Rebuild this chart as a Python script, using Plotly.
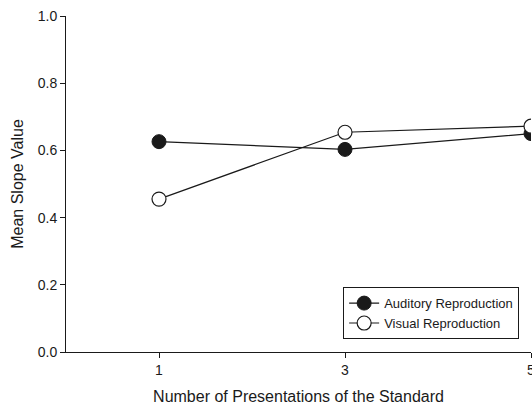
import plotly.graph_objects as go

presentations = [1, 3, 5]
auditory = [0.626, 0.603, 0.650]
visual = [0.455, 0.654, 0.672]
x_ticks = [1, 3, 5]
y_ticks = [0.0, 0.2, 0.4, 0.6, 0.8, 1.0]

fig = go.Figure()
fig.add_trace(go.Scatter(
    x=presentations, y=auditory, mode="lines+markers", name="Auditory Reproduction",
    line=dict(color="#1a1a1a", width=1.2),
    marker=dict(symbol="circle", size=14, color="#1a1a1a", line=dict(color="#1a1a1a", width=1)),
    cliponaxis=True,
))
fig.add_trace(go.Scatter(
    x=presentations, y=visual, mode="lines+markers", name="Visual Reproduction",
    line=dict(color="#1a1a1a", width=1.2),
    marker=dict(symbol="circle", size=14, color="white", line=dict(color="#1a1a1a", width=1.2)),
    cliponaxis=True,
))

fig.update_layout(
    width=532, height=406,
    margin=dict(l=66, r=1, t=16, b=54),
    paper_bgcolor="white", plot_bgcolor="white",
    font=dict(family="Liberation Sans, Arial, sans-serif", size=14, color="#1a1a1a"),
    showlegend=True,
    legend=dict(
        x=0.596, y=0.193, xanchor="left", yanchor="top",
        bordercolor="#1a1a1a", borderwidth=1, bgcolor="white",
        font=dict(size=13), tracegroupgap=0,
    ),
)
fig.update_xaxes(
    range=[0, 5], tickvals=x_ticks, ticktext=[str(v) for v in x_ticks],
    ticklabeloverflow="allow", automargin=False,
    showline=True, linecolor="#1a1a1a", linewidth=1,
    ticks="outside", ticklen=5, tickcolor="#1a1a1a",
    showgrid=False, zeroline=False,
    title=dict(text="Number of Presentations of the Standard", font=dict(size=16), standoff=14),
)
fig.update_yaxes(
    range=[0, 1.0], tickvals=y_ticks, ticktext=[f"{v:.1f}" for v in y_ticks],
    automargin=False,
    showline=True, linecolor="#1a1a1a", linewidth=1,
    ticks="outside", ticklen=5, tickcolor="#1a1a1a",
    showgrid=False, zeroline=False,
    title=dict(text="Mean Slope Value", font=dict(size=16), standoff=10),
)

fig.write_html("out.html", config={"displayModeBar": False},
               post_script="document.body.style.margin='0';")
